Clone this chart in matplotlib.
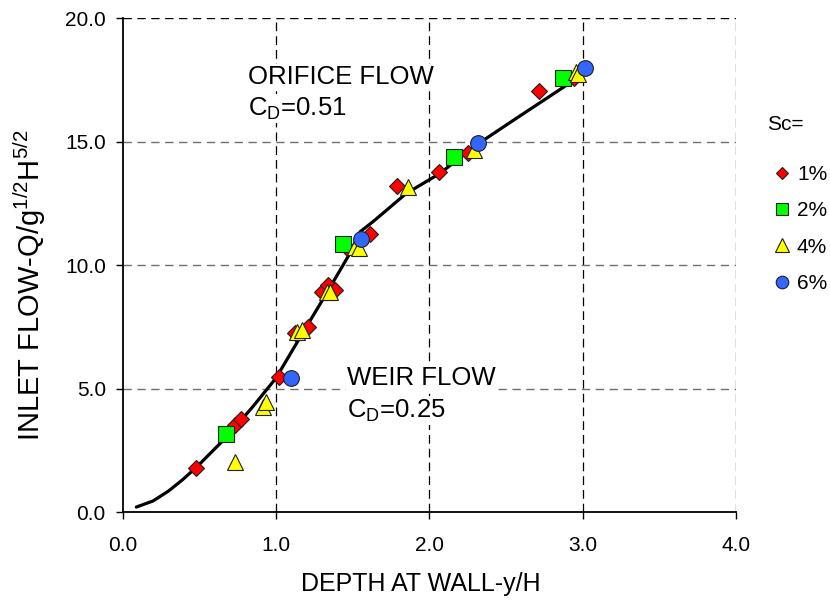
"""Inlet flow vs depth at wall, with orifice/weir curve and Sc data points."""

import matplotlib.pyplot as plt

plt.rcParams.update({
    'font.family': ['Liberation Sans', 'DejaVu Sans'],
    'mathtext.fontset': 'custom',
    'mathtext.rm': 'Liberation Sans',
    'font.size': 13,
})

# fitted design curve
curve_x = [0.09, 0.2, 0.3, 0.39, 0.48, 0.68, 0.85, 1.0, 1.16, 1.33, 1.48, 1.55,
           1.64, 1.85, 2.07, 2.29, 2.55, 2.93]
curve_y = [0.2, 0.45, 0.85, 1.3, 1.8, 3.05, 4.27, 5.42, 7.1, 8.86, 10.45, 11.36,
           11.8, 12.91, 13.72, 14.8, 15.88, 17.44]

# measured points for each cross slope
sc1_x = [0.477, 0.733, 0.770, 1.020, 1.124, 1.211, 1.298, 1.342, 1.385,
         1.461, 1.613, 1.787, 2.065, 2.250, 2.715, 2.943]
sc1_y = [1.80, 3.52, 3.76, 5.48, 7.24, 7.51, 8.93, 9.20, 9.00,
         10.68, 11.26, 13.21, 13.79, 14.53, 17.07, 17.57]
sc2_x = [0.673, 1.435, 2.161, 2.874]
sc2_y = [3.15, 10.86, 14.40, 17.60]
sc4_x = [0.733, 0.914, 0.935, 1.135, 1.168, 1.331, 1.353, 1.516, 1.542,
         1.863, 2.293, 2.955, 2.972]
sc4_y = [2.04, 4.27, 4.44, 7.31, 7.37, 8.93, 8.93, 10.75, 10.68,
         13.16, 14.67, 17.85, 17.75]
sc6_x = [1.098, 1.555, 2.315, 3.015]
sc6_y = [5.44, 11.05, 14.94, 17.98]

xticks = [0.0, 1.0, 2.0, 3.0, 4.0]
yticks = [0.0, 5.0, 10.0, 15.0, 20.0]

fig = plt.figure(figsize=(8.3, 6.02), dpi=100)
ax = fig.add_axes([0.1476, 0.1495, 0.7391, 0.8198])

ax.plot(curve_x, curve_y, color='k', lw=2.3, zorder=3, solid_capstyle='round')

mk = dict(ls='none', mec='#202020', mew=0.8, zorder=4)
ax.plot(sc1_x, sc1_y, marker='D', ms=8, mfc='#ff0000', label='1%', **mk)
ax.plot(sc2_x, sc2_y, marker='s', ms=11, mfc='#00ff00', label='2%', **mk)
ax.plot(sc4_x, sc4_y, marker='^', ms=12, mfc='#ffff00', label='4%', **mk)
ax.plot(sc6_x, sc6_y, marker='o', ms=11.3, mfc='#3366ff', label='6%', **mk)

ax.set_xlim(0, 4)
ax.set_ylim(0, 20)
ax.set_xticks(xticks)
ax.set_yticks(yticks)
ax.set_xticklabels([f'{v:.1f}' for v in xticks])
ax.set_yticklabels([f'{v:.1f}' for v in yticks])
ax.tick_params(direction='out', length=5, width=1, labelsize=15)
ax.tick_params(axis='x', pad=12)
ax.tick_params(axis='y', pad=7)

for x in xticks[1:]:
    ax.axvline(x, color='k', ls=(0, (7, 4)), lw=0.9, zorder=1)
for y in yticks[1:-1]:
    ax.axhline(y, color='#707070', ls=(0, (6, 4)), lw=1.0, zorder=1)
ax.axhline(20, color='k', ls=(0, (6, 4)), lw=1.0, zorder=1)

for side in ['top', 'right']:
    ax.spines[side].set_visible(False)
for side in ['left', 'bottom']:
    ax.spines[side].set_linewidth(1.3)

ax.set_xlabel('DEPTH AT WALL-y/H', fontsize=18, va='top')
ax.xaxis.set_label_coords(0.487, -0.121)
ax.set_ylabel(r'INLET FLOW-Q/g$^{\mathregular{1/2}}$H$^{\mathregular{5/2}}$',
              fontsize=21)
ax.yaxis.set_label_coords(-0.121, 0.46)

box = dict(facecolor='white', edgecolor='none', pad=1)
ax.text(0.82, 17.63, 'ORIFICE FLOW', fontsize=18.5, va='center', ha='left', zorder=2, bbox=box)
ax.text(0.82, 16.36, r'C$_{\mathregular{D}}$=0.51', fontsize=18.5, va='center', ha='left', zorder=2, bbox=box)
ax.text(1.467, 5.42, 'WEIR FLOW', fontsize=18.5, va='center', ha='left', zorder=2, bbox=box)
ax.text(1.467, 4.12, r'C$_{\mathregular{D}}$=0.25', fontsize=18.5, va='center', ha='left', zorder=2, bbox=box)

fig.text(767 / 830, 1 - 125 / 602, 'Sc=', fontsize=15, va='center', ha='left')
fig.legend(loc='upper left', bbox_to_anchor=(774 / 830, 1 - 165 / 602),
           frameon=False, fontsize=15, markerscale=0.8, handlelength=0.8,
           handletextpad=0.3, labelspacing=0.83, borderaxespad=0, borderpad=0)

fig.savefig('out.png', dpi=100)
